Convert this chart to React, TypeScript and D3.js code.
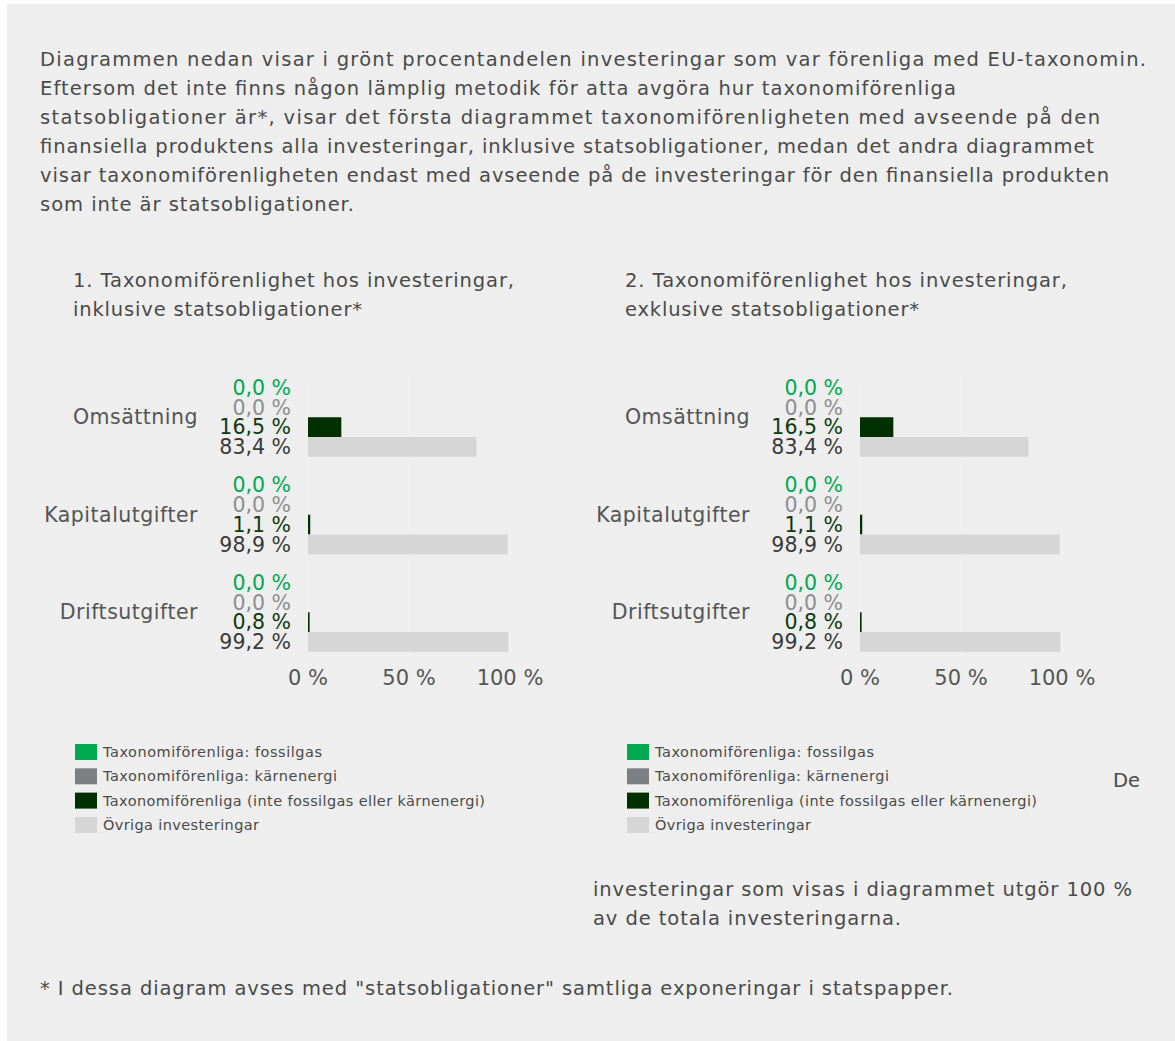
import React from "react";
import * as d3 from "d3";

const categories = ["Omsättning", "Kapitalutgifter", "Driftsutgifter"];
const seriesNames = [
  "Taxonomiförenliga: fossilgas",
  "Taxonomiförenliga: kärnenergi",
  "Taxonomiförenliga (inte fossilgas eller kärnenergi)",
  "Övriga investeringar",
];
const seriesColors = ["#00a94f", "#7d8083", "#002f00", "#d6d6d6"];
const labelColors = ["#00a94f", "#8c8e90", "#0d3a0d", "#3a3a3a"];
// values per category, in series order
const chart1Values = [
  [0.0, 0.0, 16.5, 83.4],
  [0.0, 0.0, 1.1, 98.9],
  [0.0, 0.0, 0.8, 99.2],
];
const chart2Values = [
  [0.0, 0.0, 16.5, 83.4],
  [0.0, 0.0, 1.1, 98.9],
  [0.0, 0.0, 0.8, 99.2],
];
const xTicks = [0, 50, 100];
const chartTitles = [
  ["1. Taxonomiförenlighet hos investeringar,", "inklusive statsobligationer*"],
  ["2. Taxonomiförenlighet hos investeringar,", "exklusive statsobligationer*"],
];
const introLines = [
  "Diagrammen nedan visar i grönt procentandelen investeringar som var förenliga med EU-taxonomin.",
  "Eftersom det inte finns någon lämplig metodik för atta avgöra hur taxonomiförenliga",
  "statsobligationer är*, visar det första diagrammet taxonomiförenligheten med avseende på den",
  "finansiella produktens alla investeringar, inklusive statsobligationer, medan det andra diagrammet",
  "visar taxonomiförenligheten endast med avseende på de investeringar för den finansiella produkten",
  "som inte är statsobligationer.",
];
const noteLines = [
  "investeringar som visas i diagrammet utgör 100 %",
  "av de totala investeringarna.",
];
const footnote = '* I dessa diagram avses med "statsobligationer" samtliga exponeringar i statspapper.';

// layout: rendered widths of the text lines in the reference
const introWidths = [1106, 916, 1060, 1054, 1069, 314];
const titleWidths = [
  [441, 289],
  [442, 294],
];
const legendWidths = [219, 234, 382, 156];
const noteWidths = [539, 308];

const FONT = "'DejaVu Sans', sans-serif";
const TEXT = "#4a4a4a";

const fmt = (v: number) => v.toFixed(1).replace(".", ",") + " %";

function Chart({ values, title, titleW, offsetX }: { values: number[][]; title: string[]; titleW: number[]; offsetX: number }) {
  const x = d3.scaleLinear().domain([0, 100]).range([offsetX + 308, offsetX + 510]);
  const y = d3
    .scaleBand<string>()
    .domain(categories)
    .range([368.5, 661])
    .paddingInner(0.19)
    .paddingOuter(0.095);
  const ys = d3
    .scaleBand<number>()
    .domain(d3.range(seriesNames.length))
    .range([0, y.bandwidth()])
    .padding(0);
  const gridTop = 377;
  const gridBottom = 656;
  return (
    <g>
      {title.map((t, i) => (
        <text
          key={i}
          x={offsetX + 73}
          y={287 + i * 29}
          fontSize={19.5}
          fill={TEXT}
          fontFamily={FONT}
          textLength={titleW[i]}
          lengthAdjust="spacing"
        >
          {t}
        </text>
      ))}
      {xTicks.map((t) => (
        <line key={t} x1={x(t)} x2={x(t)} y1={gridTop} y2={gridBottom} stroke="#f3f3f3" strokeWidth={1} />
      ))}
      {categories.map((c, ci) => (
        <g key={c}>
          <text
            x={offsetX + 198}
            y={(y(c) as number) + y.bandwidth() / 2}
            dy="0.35em"
            textAnchor="end"
            fontSize={20.5}
            fill="#555"
            fontFamily={FONT}
            letterSpacing={0.5}
          >
            {c}
          </text>
          {values[ci].map((v, si) => {
            const by = (y(c) as number) + (ys(si) as number);
            return (
              <g key={si}>
                <rect x={x(0)} y={by} width={x(v) - x(0)} height={ys.bandwidth()} fill={seriesColors[si]} />
                <text
                  x={offsetX + 291}
                  y={by + ys.bandwidth() / 2}
                  dy="0.35em"
                  textAnchor="end"
                  fontSize={20.5}
                  fill={labelColors[si]}
                  fontFamily={FONT}
                >
                  {fmt(v)}
                </text>
              </g>
            );
          })}
        </g>
      ))}
      {xTicks.map((t) => (
        <text key={t} x={x(t)} y={678} dy="0.35em" textAnchor="middle" fontSize={21} fill="#555" fontFamily={FONT}>
          {t + " %"}
        </text>
      ))}
      {seriesNames.map((s, i) => (
        <g key={s}>
          <rect x={offsetX + 75} y={744 + i * 24.3} width={22} height={16} fill={seriesColors[i]} />
          <text
            x={offsetX + 103}
            y={752 + i * 24.3}
            dy="0.35em"
            fontSize={14.5}
            fill={TEXT}
            fontFamily={FONT}
            textLength={legendWidths[i]}
            lengthAdjust="spacing"
          >
            {s}
          </text>
        </g>
      ))}
    </g>
  );
}

export default function App() {
  return (
    <svg width={1175} height={1041} style={{ position: "absolute", left: 0, top: 0, display: "block" }}>
      <rect x={0} y={0} width={1175} height={1041} fill="#fff" />
      <rect x={7} y={4} width={1168} height={1037} fill="#edeeed" />
      {introLines.map((l, i) => (
        <text
          key={i}
          x={40}
          y={66 + i * 29}
          fontSize={19.5}
          fill={TEXT}
          fontFamily={FONT}
          textLength={introWidths[i]}
          lengthAdjust="spacing"
        >
          {l}
        </text>
      ))}
      <Chart values={chart1Values} title={chartTitles[0]} titleW={titleWidths[0]} offsetX={0} />
      <Chart values={chart2Values} title={chartTitles[1]} titleW={titleWidths[1]} offsetX={552} />
      <text x={1113} y={787} fontSize={19.5} fill={TEXT} fontFamily={FONT}>
        De
      </text>
      {noteLines.map((l, i) => (
        <text
          key={i}
          x={593}
          y={896 + i * 29}
          fontSize={19.5}
          fill={TEXT}
          fontFamily={FONT}
          textLength={noteWidths[i]}
          lengthAdjust="spacing"
        >
          {l}
        </text>
      ))}
      <text x={40} y={995} fontSize={19.5} fill={TEXT} fontFamily={FONT} textLength={913} lengthAdjust="spacing">
        {footnote}
      </text>
    </svg>
  );
}
